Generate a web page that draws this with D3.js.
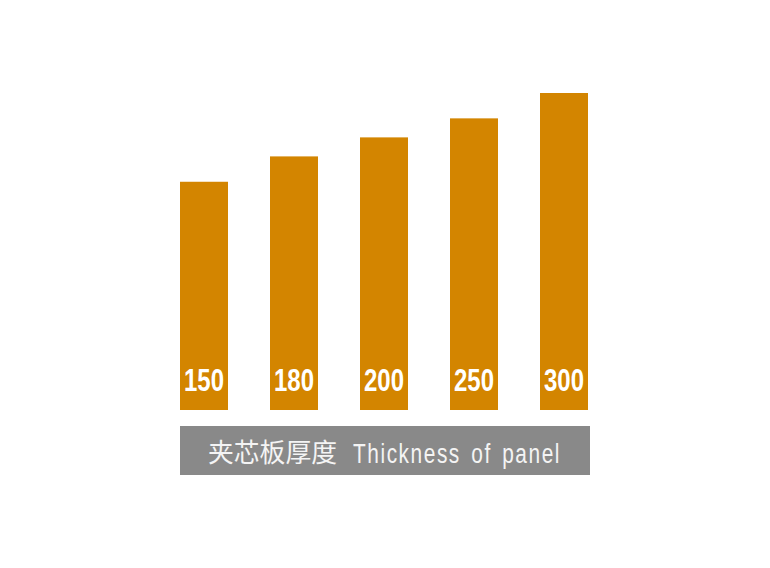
<!DOCTYPE html>
<html><head><meta charset="utf-8">
<script src="https://cdn.jsdelivr.net/npm/d3@7/dist/d3.min.js"></script>
<style>html,body{margin:0;padding:0;background:#fff;}</style>
</head><body>
<svg id="c" width="770" height="568"></svg>
<script>
const categories = ["150", "180", "200", "250", "300"];
const values = [72, 80, 86, 92, 100];
const captionCN = "夹芯板厚度";
const captionEN = "Thickness of panel";

const svg = d3.select("#c");
const x = d3.scaleBand().domain(categories).range([180, 588]).paddingInner(42/90).paddingOuter(0);
const y = d3.scaleLinear().domain([0, 100]).range([410, 93]);

svg.selectAll("rect.bar").data(categories).join("rect")
  .attr("class", "bar")
  .attr("x", d => x(d))
  .attr("width", x.bandwidth())
  .attr("y", (d, i) => y(values[i]))
  .attr("height", (d, i) => y(0) - y(values[i]))
  .attr("fill", "#D38500");

svg.selectAll("text.lbl").data(categories).join("text")
  .attr("class", "lbl")
  .attr("x", d => x(d) + x.bandwidth() / 2 - 20)
  .attr("y", 391)
  .attr("font-family", "'Liberation Sans', Arial, sans-serif")
  .attr("font-weight", "bold")
  .attr("font-size", 32)
  .attr("fill", "#ffffff")
  .attr("textLength", 40)
  .attr("lengthAdjust", "spacingAndGlyphs")
  .text(d => d);

svg.append("rect")
  .attr("x", 180).attr("y", 426)
  .attr("width", 410).attr("height", 49)
  .attr("fill", "#898989");

svg.append("text")
  .attr("x", 208).attr("y", 462)
  .attr("font-family", "'Noto Sans CJK SC', sans-serif")
  .attr("font-size", 26)
  .attr("fill", "#f4f4f4")
  .attr("textLength", 129)
  .attr("lengthAdjust", "spacingAndGlyphs")
  .text(captionCN);

svg.append("text")
  .attr("x", 353).attr("y", 463)
  .attr("font-family", "'Liberation Sans', Arial, sans-serif")
  .attr("font-size", 27)
  .attr("letter-spacing", 2)
  .attr("word-spacing", 4)
  .attr("fill", "#f4f4f4")
  .attr("textLength", 208)
  .attr("lengthAdjust", "spacingAndGlyphs")
  .text(captionEN);
</script>
</body></html>
